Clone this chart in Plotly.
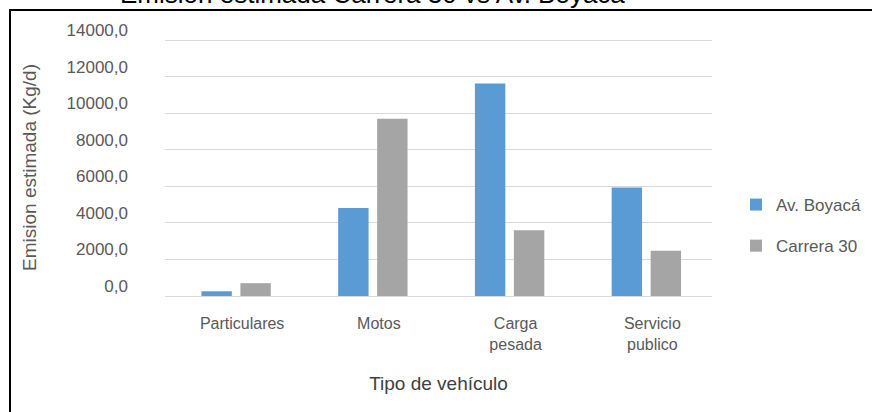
import plotly.graph_objects as go

# Estimated daily emissions by vehicle type on two corridors
categorias = ["Particulares", "Motos", "Carga<br>pesada", "Servicio<br>publico"]
av_boyaca = [260, 4820, 11620, 5940]
carrera_30 = [700, 9700, 3600, 2480]
y_ticks = [0, 2000, 4000, 6000, 8000, 10000, 12000, 14000]
y_tick_text = ["0,0", "2000,0", "4000,0", "6000,0", "8000,0", "10000,0", "12000,0", "14000,0"]

W, H = 872, 412
L, R, T, B = 165, 160, 39, 116
plot_w = W - L - R
plot_h = H - T - B


def px_x(px):
    return (px - L) / plot_w


def px_y(py):
    return 1 + (T - py) / plot_h


fig = go.Figure()
fig.add_trace(go.Bar(name="Av. Boyacá", x=categorias, y=av_boyaca, legendgroup="boyaca",
                     marker=dict(color="#5B9BD5", line=dict(width=0))))
fig.add_trace(go.Bar(name="Carrera 30", x=categorias, y=carrera_30, legendgroup="cra30",
                     marker=dict(color="#A5A5A5", line=dict(width=0))))

txt = "#595959"
fig.update_layout(
    width=W, height=H,
    margin=dict(l=L, r=R, t=T, b=B, autoexpand=False),
    paper_bgcolor="white", plot_bgcolor="white",
    barmode="group", bargap=0.43, bargroupgap=0.22,
    font=dict(family="Liberation Sans, Arial, sans-serif", color=txt),
    showlegend=True,
    legend=dict(x=px_x(736), y=px_y(187), xanchor="left", yanchor="top",
                font=dict(size=17, color=txt), itemwidth=30,
                tracegroupgap=16, bgcolor="rgba(0,0,0,0)"),
    xaxis=dict(range=[-0.52, 3.48], showgrid=False, showline=False, zeroline=False,
               ticks="", tickfont=dict(size=16, color=txt), ticklabelstandoff=16,
               ticklabelshift=6,
               title=dict(text="Tipo de vehículo", font=dict(size=19, color="#404040"),
                          standoff=24)),
    yaxis=dict(range=[0, 14060], tickvals=y_ticks, ticktext=y_tick_text,
               showgrid=True, gridcolor="#D9D9D9", gridwidth=1,
               zeroline=True, zerolinecolor="#D9D9D9", zerolinewidth=1,
               showline=False, ticks="", tickfont=dict(size=17, color=txt),
               ticklabelstandoff=36, ticklabelshift=-10,
               title=dict(text="Emision estimada (Kg/d)", font=dict(size=19, color=txt),
                          standoff=24)),
)

# Chart title, partly above the top edge of the frame
fig.add_annotation(text="Emisión estimada Carrera 30 vs Av. Boyacá",
                   xref="paper", yref="paper", x=px_x(372), y=px_y(11),
                   xanchor="center", yanchor="bottom", showarrow=False,
                   font=dict(size=26, color="black"))

# Outer frame (top and left edges visible)
fig.add_shape(type="rect", xref="paper", yref="paper",
              x0=px_x(10), x1=px_x(W + 20), y0=px_y(H + 20), y1=px_y(10),
              line=dict(color="black", width=2), fillcolor="rgba(0,0,0,0)", layer="above")

fig.write_html("out.html")
